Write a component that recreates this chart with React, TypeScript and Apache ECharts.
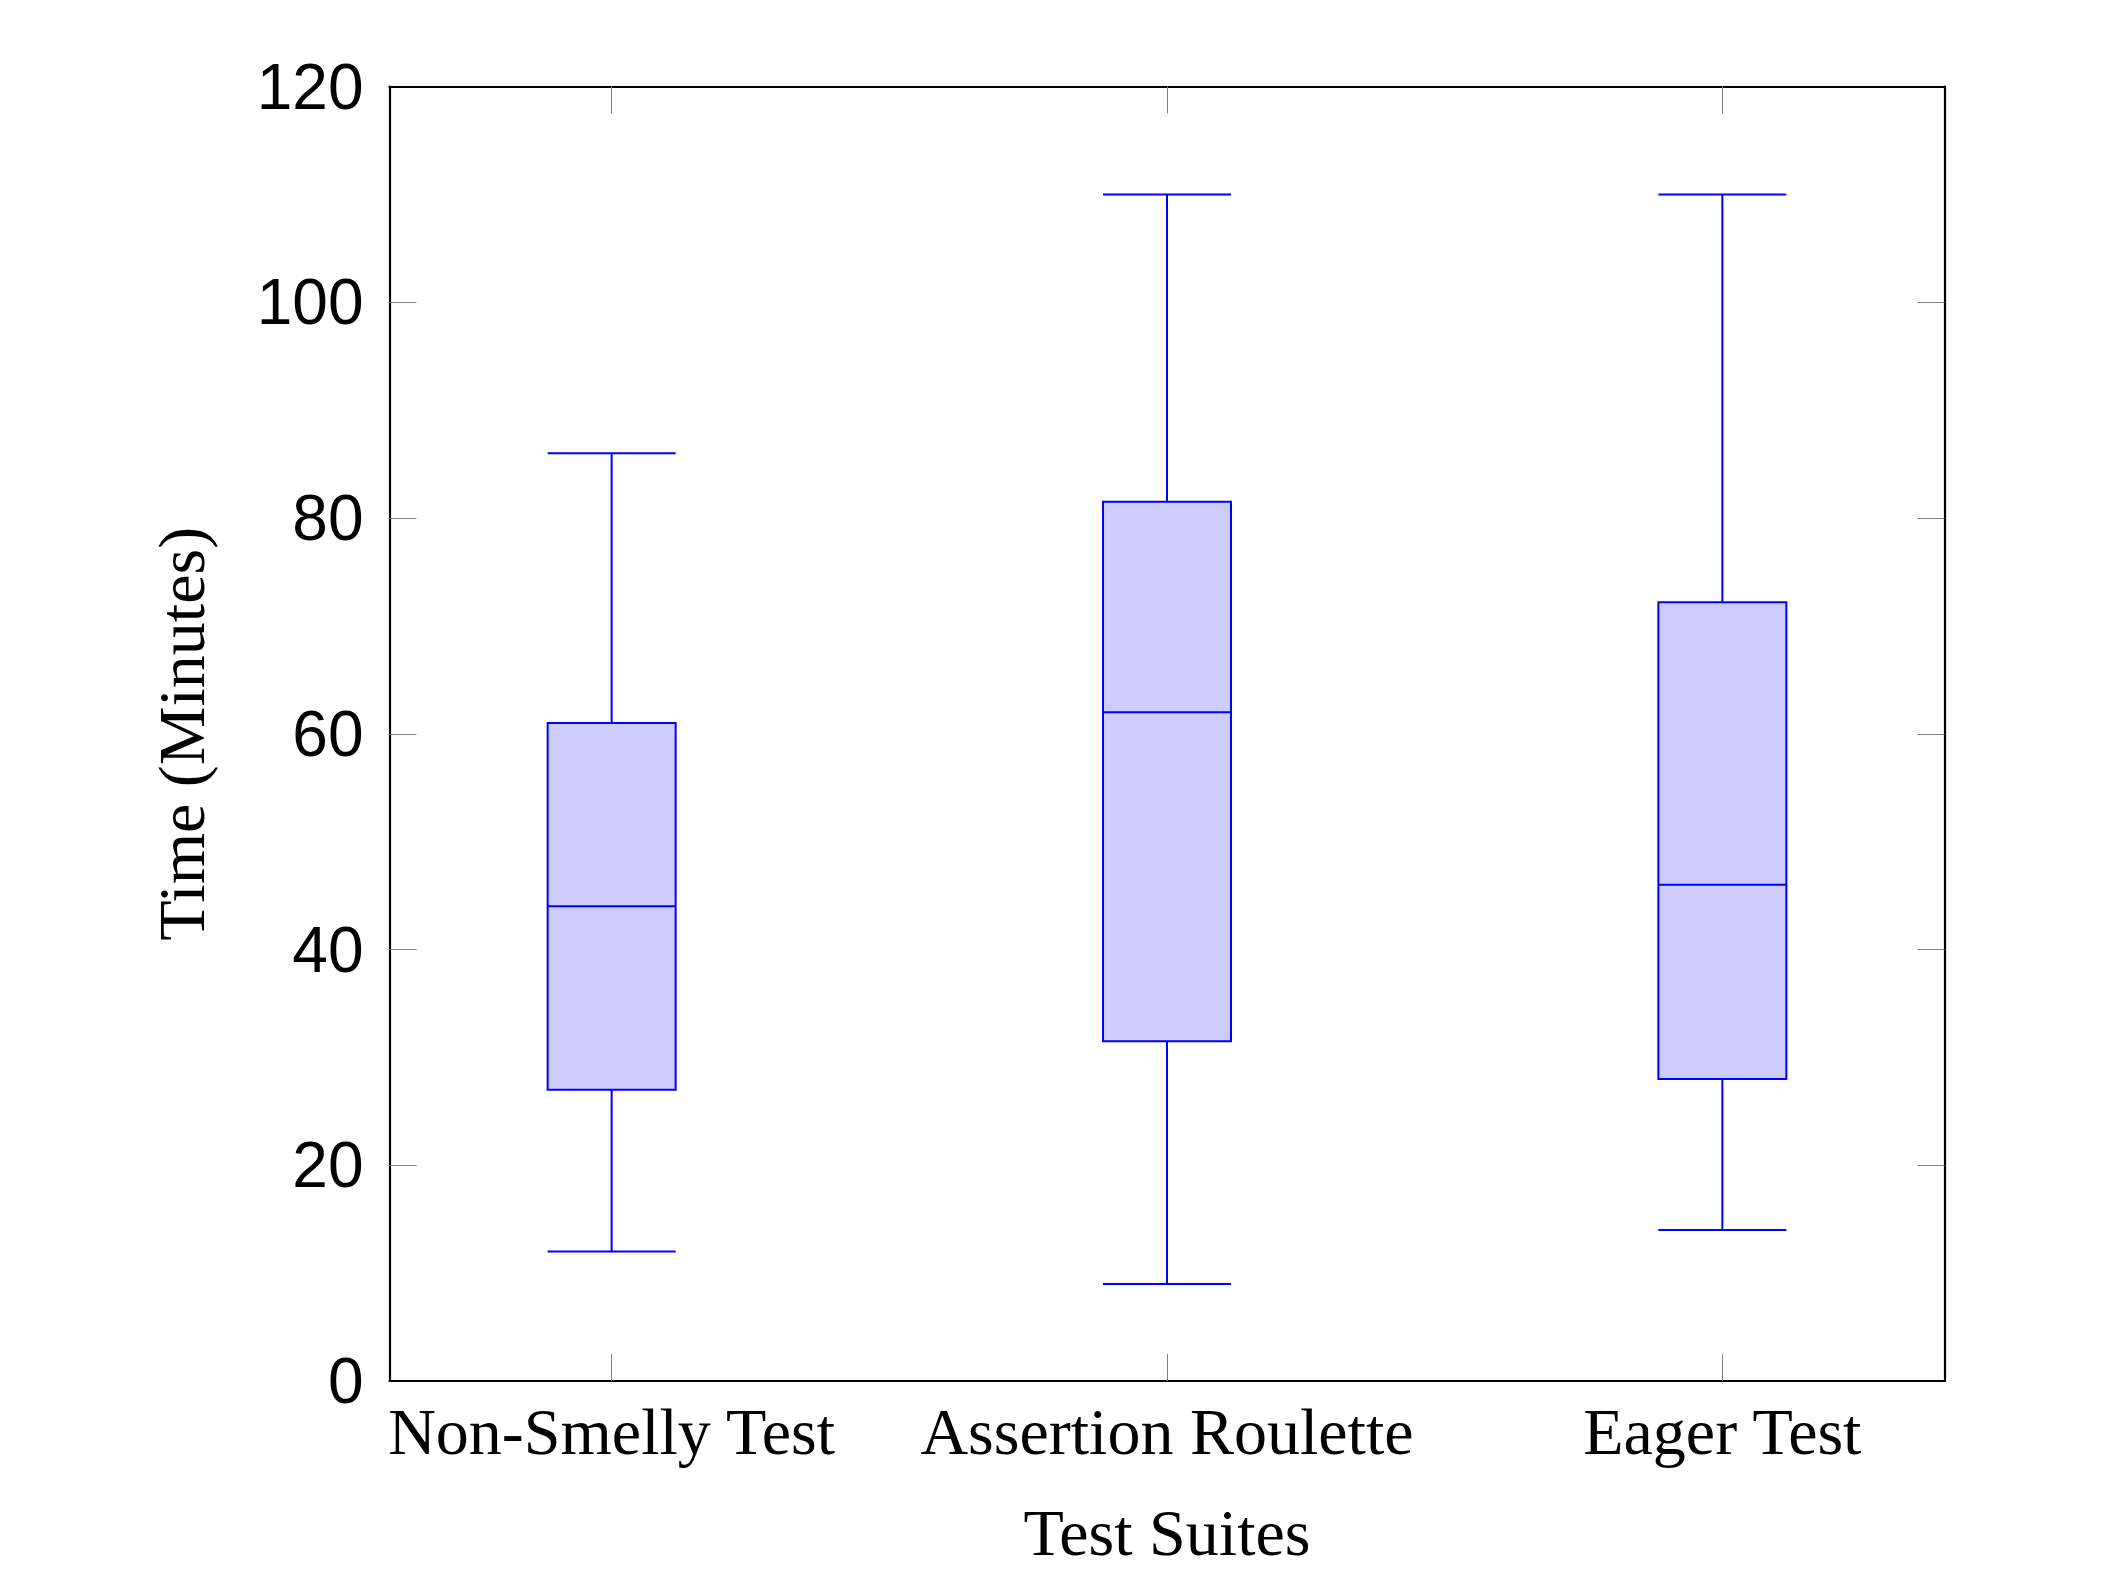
import React, { useEffect, useRef } from "react";
import * as echarts from "echarts";

const categories = ["Non-Smelly Test", "Assertion Roulette", "Eager Test"];
const categoryPositions = [1, 2, 3];
// [min, Q1, median, Q3, max]
const nonSmelly = [12, 27, 44, 61, 86];
const assertionRoulette = [9, 31.5, 62, 81.5, 110];
const eagerTest = [14, 28, 46, 72.2, 110];
const yTicks = [0, 20, 40, 60, 80, 100, 120];
const yInnerTicks = [20, 40, 60, 80, 100];

export default function App() {
  const ref = useRef<HTMLDivElement>(null);
  useEffect(() => {
    document.body.style.margin = "0";
    if (!ref.current) return;
    const chart = echarts.init(ref.current, null, { renderer: "svg" });
    const boxes = [nonSmelly, assertionRoulette, eagerTest];
    const data = boxes.map((b, i) => [categoryPositions[i], ...b]);
    const tickStyle = { show: true, inside: true, length: 27, lineStyle: { color: "#808080", width: 1 } };
    const axisLine = { show: true, onZero: false, lineStyle: { color: "#000", width: 2.2 } };
    const serif = "'Liberation Serif', 'Times New Roman', serif";
    const sans = "'Liberation Sans', Arial, Helvetica, sans-serif";
    chart.setOption({
      animation: false,
      grid: { left: 389.5, top: 86.5, right: 165.5, bottom: 182, containLabel: false },
      xAxis: [
        {
          type: "value",
          min: 0.6,
          max: 3.4,
          position: "bottom",
          axisLine,
          axisTick: { ...tickStyle, customValues: categoryPositions },
          splitLine: { show: false },
          axisLabel: {
            customValues: categoryPositions,
            formatter: (v: number) => categories[categoryPositions.indexOf(Math.round(v))] ?? "",
            fontFamily: serif,
            fontSize: 66,
            color: "#000",
            margin: 17,
          },
          name: "Test Suites",
          nameLocation: "middle",
          nameGap: 118,
          nameTextStyle: { fontFamily: serif, fontSize: 66, color: "#000" },
        },
        {
          type: "value",
          min: 0.6,
          max: 3.4,
          position: "top",
          axisLine,
          axisTick: { ...tickStyle, customValues: categoryPositions },
          splitLine: { show: false },
          axisLabel: { show: false },
        },
      ],
      yAxis: [
        {
          type: "value",
          min: 0,
          max: 120,
          interval: 20,
          position: "left",
          axisLine,
          axisTick: { ...tickStyle, customValues: yInnerTicks },
          splitLine: { show: false },
          axisLabel: {
            customValues: yTicks,
            fontFamily: sans,
            fontSize: 64,
            color: "#000",
            margin: 26,
          },
          name: "Time (Minutes)",
          nameLocation: "middle",
          nameRotate: 90,
          nameGap: 175,
          nameTextStyle: { fontFamily: serif, fontSize: 66, color: "#000" },
        },
        {
          type: "value",
          min: 0,
          max: 120,
          interval: 20,
          position: "right",
          axisLine,
          axisTick: { ...tickStyle, customValues: yInnerTicks },
          splitLine: { show: false },
          axisLabel: { show: false },
        },
      ],
      series: [
        {
          type: "boxplot",
          xAxisIndex: 0,
          yAxisIndex: 0,
          layout: "horizontal",
          boxWidth: [128, 128],
          data,
          itemStyle: { color: "#ccccff", borderColor: "#0000ff", borderWidth: 2 },
          emphasis: { disabled: true },
        },
      ],
    });
    return () => chart.dispose();
  }, []);
  return <div ref={ref} style={{ width: 2110, height: 1570 }} />;
}
